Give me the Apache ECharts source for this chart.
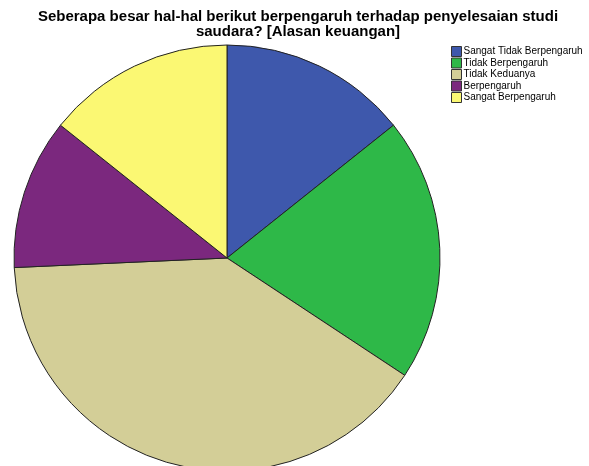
<!DOCTYPE html>
<html>
<head>
<meta charset="utf-8">
<title>Alasan keuangan</title>
<script src="https://cdn.jsdelivr.net/npm/echarts@6/dist/echarts.min.js"></script>
<style>
  html, body { margin: 0; padding: 0; background: #fff; }
  #chart { width: 589px; height: 466px; }
</style>
</head>
<body>
<div id="chart"></div>
<script>
// kategori jawaban dan jumlah responden
const categories = ['Sangat Tidak Berpengaruh', 'Tidak Berpengaruh', 'Tidak Keduanya', 'Berpengaruh', 'Sangat Berpengaruh']
const counts = [5, 7, 14, 4, 5]
const colors = ['#3e58ac', '#2eb848', '#d3ce97', '#7b287e', '#fbf873']

const chart = echarts.init(document.getElementById('chart'))

chart.setOption({
  animation: false,
  color: colors,
  title: {
    text: 'Seberapa besar hal-hal berikut berpengaruh terhadap penyelesaian studi\nsaudara? [Alasan keuangan]',
    left: 298,
    top: 9,
    padding: 0,
    textAlign: 'center',
    textStyle: {
      fontFamily: 'Liberation Sans, Arial',
      fontSize: 15,
      lineHeight: 15.5,
      fontWeight: 'bold',
      color: '#000'
    }
  },
  legend: {
    orient: 'vertical',
    left: 451,
    top: 46,
    padding: 0,
    itemWidth: 10,
    itemHeight: 10,
    itemGap: 0.5,
    icon: 'rect',
    itemStyle: { borderColor: '#333', borderWidth: 1 },
    textStyle: {
      fontFamily: 'Liberation Sans, Arial',
      fontSize: 10,
      lineHeight: 10,
      color: '#000',
      padding: [0, 0, 0, -3]
    },
    data: categories
  },
  series: [
    {
      type: 'pie',
      center: [227, 258],
      radius: 213,
      startAngle: 90,
      clockwise: true,
      label: { show: false },
      labelLine: { show: false },
      emphasis: { disabled: true },
      itemStyle: { borderColor: '#222', borderWidth: 1 },
      data: categories.map((name, i) => ({ name, value: counts[i] }))
    }
  ]
})
</script>
</body>
</html>
